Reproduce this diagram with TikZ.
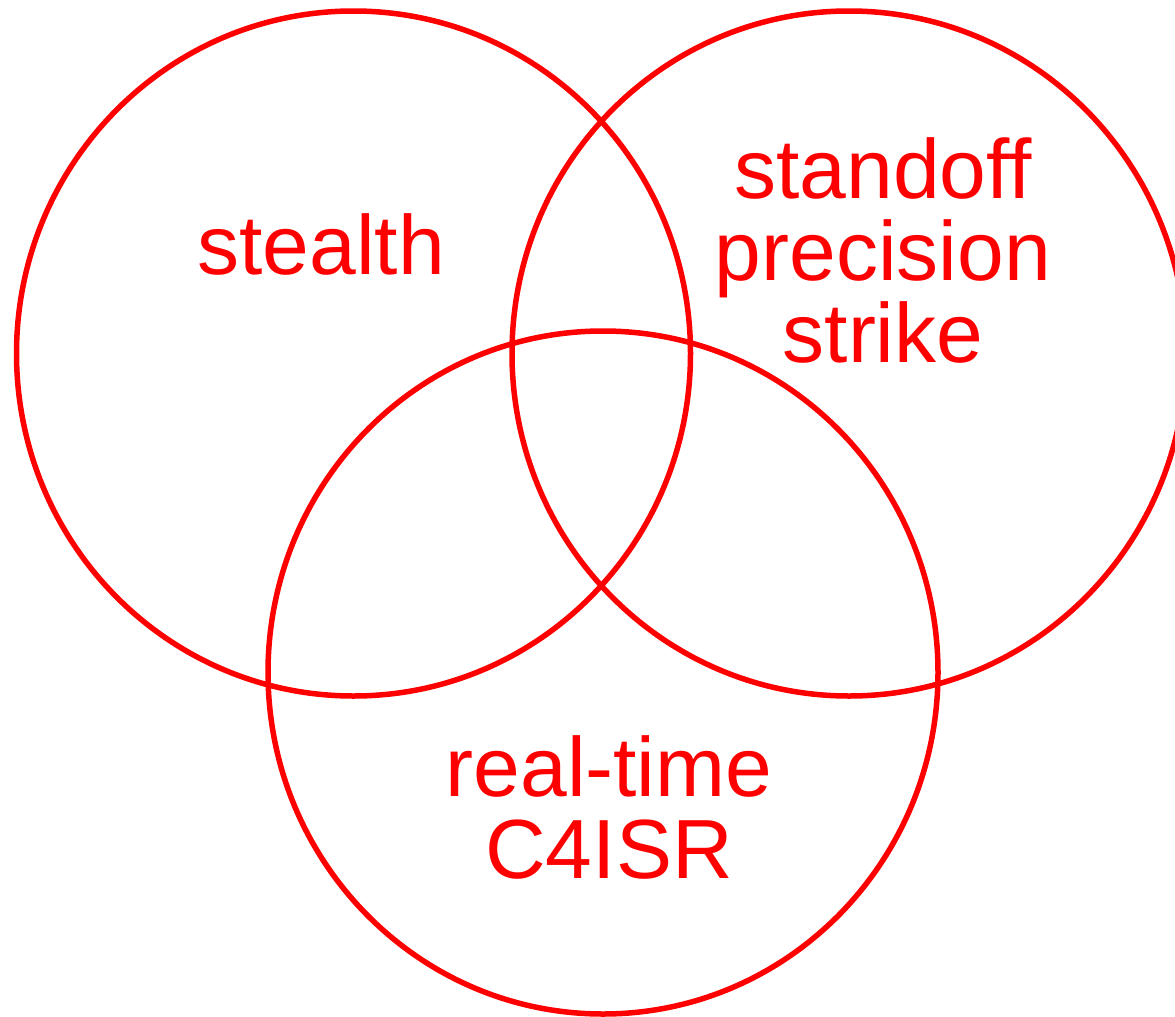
\documentclass[tikz,border=0pt]{standalone}
\usepackage{fontspec}
\setmainfont{Liberation Sans}
\definecolor{vred}{RGB}{255,0,0}
\begin{document}
\begin{tikzpicture}[x=1pt,y=-1pt,
  ring/.style={draw=vred,line width=5.5pt},
  lbl/.style={text=vred,font=\fontsize{84}{82}\selectfont,align=center,anchor=base,inner sep=0pt}]
\useasboundingbox (0,0) rectangle (1175,1017);
\begin{scope}
\clip (0,0) rectangle (1175,1017);
\draw[ring] (353.5,353.5) ellipse [x radius=337, y radius=342.5];
\draw[ring] (849,353.5) ellipse [x radius=337, y radius=342.5];
\draw[ring] (603,672.5) ellipse [x radius=335, y radius=341.5];
\end{scope}
\node[lbl] (stealth) at (321,274) {stealth};
\node[lbl] (standoff) at (883,362) {standoff\\precision\\strike};
\node[lbl] (c4isr) at (609,878) {real-time\\C4ISR};
\end{tikzpicture}
\end{document}
